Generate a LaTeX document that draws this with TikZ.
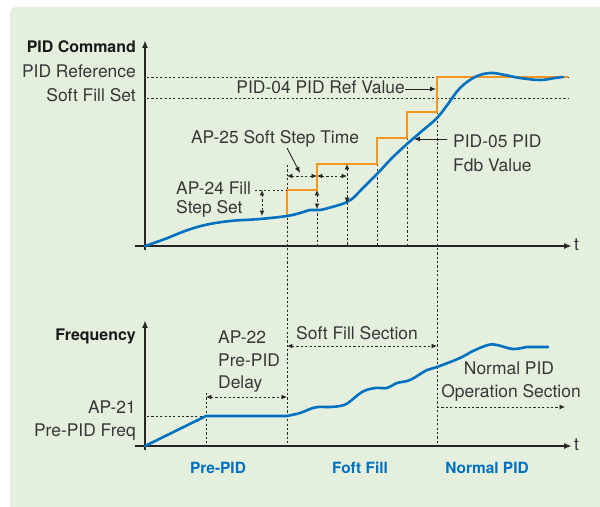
\documentclass[tikz,border=0pt]{standalone}
\usepackage{fontspec}
\setmainfont{TeX Gyre Heros}
\usetikzlibrary{arrows.meta}

\definecolor{bggreen}{RGB}{228,239,222}
\definecolor{curveblue}{RGB}{0,112,192}
\definecolor{steporange}{RGB}{247,150,30}
\definecolor{txtgray}{RGB}{55,55,55}

\tikzset{
  axisline/.style={line width=2.2pt, draw=black!85, -{Latex[length=8pt,width=6pt]}},
  guide/.style={line width=0.9pt, draw=black!85, dash pattern=on 2.2pt off 2.2pt},
  dimarrow/.style={guide, {Latex[length=5.5pt,width=5pt]}-{Latex[length=5.5pt,width=5pt]}},
  onearrow/.style={guide, -{Latex[length=5.5pt,width=5pt]}},
  leader/.style={line width=0.9pt, draw=black!85, -{Latex[length=6pt,width=5pt]}},
  feedback/.style={line width=2.6pt, draw=curveblue, line cap=round, line join=round},
  stepline/.style={line width=1.3pt, draw=steporange},
  lbl/.style={font=\fontsize{17.5}{20}\selectfont, text=txtgray, inner sep=0pt},
  axislbl/.style={font=\fontsize{16}{19}\selectfont\bfseries, text=black!90, inner sep=0pt},
  zonelbl/.style={font=\fontsize{15.5}{18}\selectfont\bfseries, text=curveblue, inner sep=0pt}
}

\begin{document}
\begin{tikzpicture}[x=1bp,y=-1bp]
\useasboundingbox (0,0) rectangle (600,507);
\begin{scope}
\clip (0,0) rectangle (600,507);
\fill[bggreen, rounded corners=6pt] (10,7) rectangle (612,519);
\end{scope}

% upper chart: PID command
\coordinate (cmdtop) at (145,40);
\coordinate (cmdbot) at (145,250);
\coordinate (cmdleft) at (135,246);
\coordinate (cmdright) at (572,246);
\draw[axisline] (cmdbot) -- (cmdtop);
\draw[axisline] (cmdleft) -- (cmdright);
\node[lbl, anchor=base west] (t1) at (574,250) {t};
\node[axislbl, anchor=base east] (cmdname) at (136,53) {PID Command};
\node[lbl, anchor=base east] (refname) at (136,78) {PID Reference};
\node[lbl, anchor=base east] (fillname) at (136,102) {Soft Fill Set};

\coordinate (ref0) at (147,77);  \coordinate (ref1) at (568,77);
\coordinate (fill0) at (147,98); \coordinate (fill1) at (568,98);
\draw[guide] (ref0) -- (ref1);
\draw[guide] (fill0) -- (fill1);

% time marks
\draw[guide] (287,165) -- (287,446);
\draw[guide] (317,209) -- (317,246);
\draw[guide] (347,203) -- (347,246);
\draw[guide] (377,138) -- (377,246);
\draw[guide] (407,112) -- (407,246);
\draw[guide] (437,77) -- (437,446);

% soft fill steps
\draw[stepline] (287,216) |- (317,190) |- (377,164) |- (407,138) |- (437,112) |- (568,77);

% feedback
\draw[feedback] plot[smooth, tension=0.6] coordinates {
  (145,246) (165,239) (185,231) (205,225) (230,221) (260,219) (287,216)
  (300,213) (310,210) (320,210) (332,207) (345,203) (352,199) (362,189)
  (377,174) (392,158) (407,144) (422,131) (437,118) (448,104) (460,88)
  (475,77) (490,73) (505,75) (520,78) (540,80) (555,78) (563,77)};

% step set and step time
\draw[guide] (255,190) -- (287,190);
\draw[dimarrow] (262,190) -- (262,216);
\draw[dimarrow] (287,176) -- (317,176);
\draw[dimarrow] (317,176) -- (347,176);
\draw[dimarrow] (317,190) -- (317,209);
\draw[dimarrow] (347,164) -- (347,203);

\node[lbl, anchor=base west] (stepset) at (176,195) {AP-24 Fill};
\node[lbl, anchor=base west] (stepset2) at (176,214) {Step Set};
\node[lbl, anchor=base] (steptime) at (275,144) {AP-25 Soft Step Time};
\coordinate (steptip) at (300,173);
\draw[leader] (287,148) -- (steptip);

\node[lbl, anchor=base east] (refval) at (405,94) {PID-04 PID Ref Value};
\coordinate (reftip) at (436,89);
\draw[leader] (refval.east |- reftip) -- (reftip);

\node[lbl, anchor=base west] (fdbval) at (453,148) {PID-05 PID};
\node[lbl, anchor=base west] (fdbval2) at (453,172) {Fdb Value};
\coordinate (fdbtip) at (414,139);
\draw[leader] (447,139) -- (fdbtip);

% lower chart: frequency
\coordinate (frqtop) at (145,320);
\coordinate (frqbot) at (145,450);
\coordinate (frqleft) at (135,446);
\coordinate (frqright) at (572,446);
\draw[axisline] (frqbot) -- (frqtop);
\draw[axisline] (frqleft) -- (frqright);
\node[lbl, anchor=base west] (t2) at (574,450) {t};
\node[axislbl, anchor=base east] (frqname) at (136,340) {Frequency};

\node[lbl, anchor=base east] (prefreq) at (136,413) {AP-21};
\node[lbl, anchor=base east] (prefreq2) at (136,436) {Pre-PID Freq};
\draw[guide] (147,416) -- (206,416);
\draw[guide] (206,393) -- (206,446);

\draw[feedback] (145,446) -- (206,416) -- (287,416);
\draw[feedback] plot[smooth, tension=0.6] coordinates {
  (287,416) (300,413) (310,409) (318,407) (330,407) (340,406) (348,403)
  (362,392) (375,388) (387,388) (397,383) (410,380) (427,370) (437,367)
  (460,358) (473,351) (488,345) (497,345) (513,349) (527,347) (533,347)
  (548,347)};

\node[lbl, anchor=base west] (delay) at (218,343) {AP-22};
\node[lbl, anchor=base west] (delay2) at (218,366) {Pre-PID};
\node[lbl, anchor=base west] (delay3) at (218,388) {Delay};
\draw[dimarrow] (206,397) -- (287,397);

\node[lbl, anchor=base] (fillsec) at (357,339) {Soft Fill Section};
\draw[dimarrow] (287,346) -- (437,346);

\node[lbl, anchor=base] (normsec) at (509,374) {Normal PID};
\node[lbl, anchor=base] (normsec2) at (511,397) {Operation Section};
\draw[onearrow] (437,407) -- (565,407);

% zones
\node[zonelbl, anchor=base] (zonepre) at (218,473) {Pre-PID};
\node[zonelbl, anchor=base] (zonefill) at (360,473) {Foft Fill};
\node[zonelbl, anchor=base] (zonenorm) at (487,473) {Normal PID};
\end{tikzpicture}
\end{document}
